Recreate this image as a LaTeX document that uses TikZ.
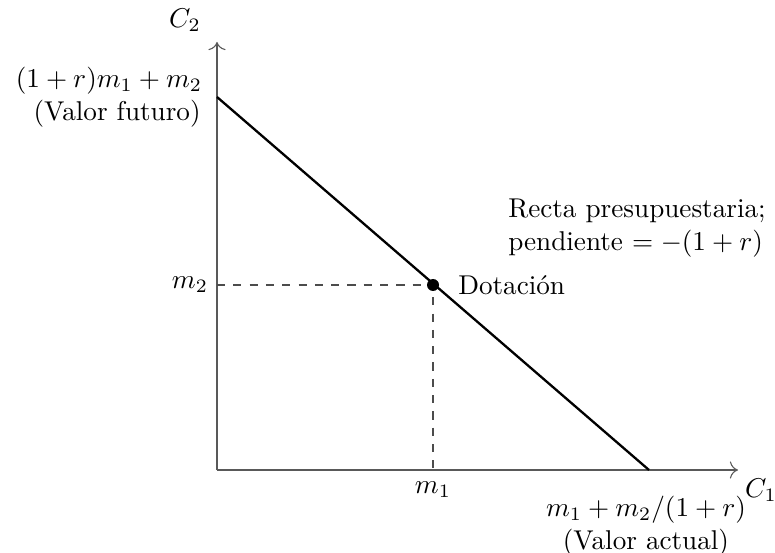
\documentclass[tikz,border=0pt]{standalone}
\usetikzlibrary{arrows.meta}
\begin{document}
\begin{tikzpicture}[x=0.368pt,y=-0.368pt,
  axis/.style={draw=black!65,line width=0.4pt,-{To[length=3pt]}},
  budget/.style={draw=black,line width=0.85pt},
  guide/.style={draw=black!70,dashed,line width=0.4pt},
  lbl/.style={inner sep=1pt}]
\useasboundingbox (0,0) rectangle (775,553);
\coordinate (O) at (217,470);
\coordinate (ytop) at (217,42);
\coordinate (xend) at (738,470);
\coordinate (A) at (217,97);
\coordinate (B) at (649,470);
\coordinate (E) at (433,285);
\coordinate (Ey) at (217,285);
\coordinate (Ex) at (433,470);
\draw[axis] (O) -- (ytop);
\draw[axis] (O) -- (xend);
\draw[guide] (Ey) -- (E) -- (Ex);
\draw[budget] (A) -- (B);
\fill (E) circle (6);
\node[lbl] (c2) at (185,20) {$C_2$};
\node[lbl] (c1) at (761,490) {$C_1$};
\node[lbl,align=center] (fv) at (109,97) {$(1+r)m_1+m_2$\\\hspace*{0.6em}(Valor futuro)};
\node[lbl] (m2) at (190,285) {$m_2$};
\node[lbl] (m1) at (433,490) {$m_1$};
\node[lbl,align=center] (pv) at (646,526) {$m_1+m_2/(1+r)$\\(Valor actual)};
\node[lbl,anchor=west] (dot) at (455,285) {Dotación};
\node[lbl,align=left,anchor=west] (rp) at (505,228) {Recta presupuestaria;\\pendiente $=-(1+r)$};
\end{tikzpicture}
\end{document}
